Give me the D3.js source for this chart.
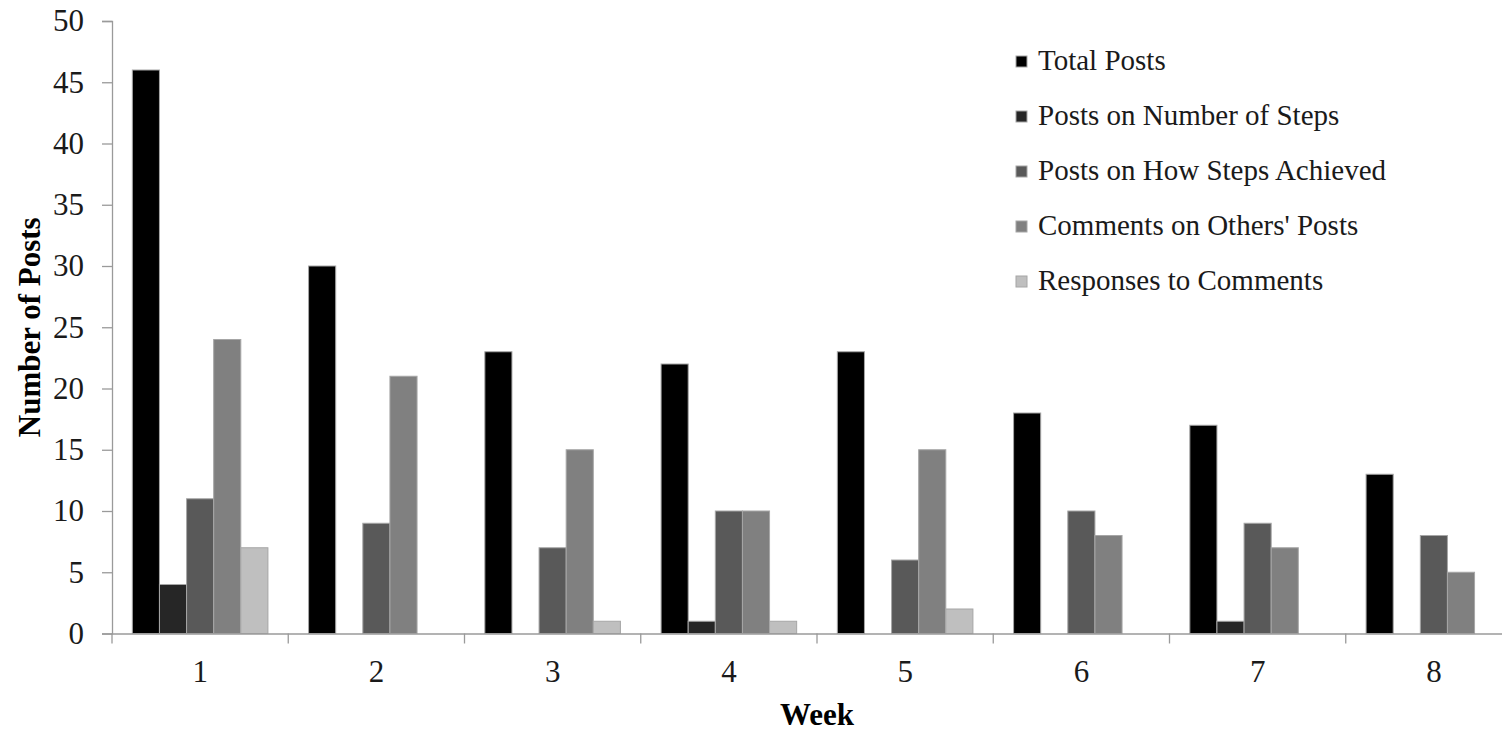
<!DOCTYPE html>
<html>
<head>
<meta charset="utf-8">
<script src="https://cdn.jsdelivr.net/npm/d3@7"></script>
<style>
html,body{margin:0;padding:0;background:#fff;}
svg{display:block;}
</style>
</head>
<body>
<svg id="chart" width="1502" height="733"></svg>
<script>
const weeks = ["1","2","3","4","5","6","7","8"];
const seriesNames = ["Total Posts","Posts on Number of Steps","Posts on How Steps Achieved","Comments on Others' Posts","Responses to Comments"];
const totalPosts     = [46,30,23,22,23,18,17,13];
const numberOfSteps  = [4,0,0,1,0,0,1,0];
const howAchieved    = [11,9,7,10,6,10,9,8];
const comments       = [24,21,15,10,15,8,7,5];
const responses      = [7,0,1,1,2,0,0,0];
const yTicks = [0,5,10,15,20,25,30,35,40,45,50];
const colors = ["#000000","#262626","#595959","#808080","#bfbfbf"];

const seriesValues = [totalPosts, numberOfSteps, howAchieved, comments, responses];
const FONT = "'Liberation Serif', 'Times New Roman', Times, serif";

const svg = d3.select("#chart");
const x0 = 112, x1 = 1522, yTop = 21, yBot = 633.5;

const x = d3.scaleBand().domain(weeks).range([x0, x1]).paddingInner(0).paddingOuter(0);
const inner = d3.scaleBand().domain(d3.range(seriesNames.length)).range([0, x.bandwidth()]).paddingOuter(0.75).paddingInner(0);
const y = d3.scaleLinear().domain([0,50]).range([yBot, yTop]);

// bars
const groups = svg.append("g").selectAll("g").data(weeks).join("g")
  .attr("transform", d => `translate(${x(d)},0)`);
groups.selectAll("rect")
  .data((w, i) => seriesValues.map((vals, s) => ({s, v: vals[i]})).filter(d => d.v > 0))
  .join("rect")
  .attr("x", d => inner(d.s))
  .attr("width", inner.bandwidth())
  .attr("y", d => y(d.v))
  .attr("height", d => yBot - y(d.v))
  .attr("fill", d => colors[d.s])
  .attr("stroke", "#a6a6a6")
  .attr("stroke-width", 1);

// y axis
const yAxis = d3.axisLeft(y).tickValues(yTicks).tickSize(10).tickPadding(18).tickFormat(d3.format("d"));
const gy = svg.append("g").attr("transform", `translate(${x0},0)`).call(yAxis)
  .attr("font-family", FONT);
gy.select(".domain").attr("stroke", "#9a9a9a").attr("stroke-width", 1.3);
gy.selectAll(".tick line").attr("stroke", "#9a9a9a").attr("stroke-width", 1.3);
gy.selectAll(".tick text").attr("font-size", 31).style("font-family", FONT).attr("fill", "#1a1a1a");

// x axis
const xAxis = d3.axisBottom(x).tickSize(0).tickPadding(26);
const gx = svg.append("g").attr("transform", `translate(0,${yBot})`).call(xAxis)
  .attr("font-family", FONT);
gx.select(".domain").attr("stroke", "#9a9a9a").attr("stroke-width", 1.3);
gx.selectAll(".tick text").attr("font-size", 31).style("font-family", FONT).attr("fill", "#1a1a1a");
// category separator ticks
gx.append("g").selectAll("line").data(weeks).join("line")
  .attr("x1", d => x(d)).attr("x2", d => x(d))
  .attr("y1", 0).attr("y2", 10)
  .attr("stroke", "#9a9a9a").attr("stroke-width", 1.3);

// axis titles
svg.append("text")
  .attr("transform", `translate(40,${(yTop+yBot)/2}) rotate(-90)`)
  .attr("text-anchor", "middle")
  .style("font-family", FONT)
  .attr("font-size", 31).attr("font-weight", "bold")
  .text("Number of Posts");
svg.append("text")
  .attr("x", (x0 + x1)/2).attr("y", 725)
  .attr("text-anchor", "middle")
  .style("font-family", FONT)
  .attr("font-size", 31).attr("font-weight", "bold")
  .text("Week");

// legend
const legend = svg.append("g").attr("transform", "translate(1016,0)");
const li = legend.selectAll("g").data(seriesNames).join("g")
  .attr("transform", (d,i) => `translate(0,${56 + i*55})`);
li.append("rect").attr("width", 11).attr("height", 11)
  .attr("fill", (d,i) => colors[i]).attr("stroke", "#a6a6a6").attr("stroke-width", 1);
li.append("text").attr("x", 22).attr("y", 13.5)
  .style("font-family", FONT)
  .attr("font-size", 29).attr("fill", "#1a1a1a")
  .text(d => d);
</script>
</body>
</html>
